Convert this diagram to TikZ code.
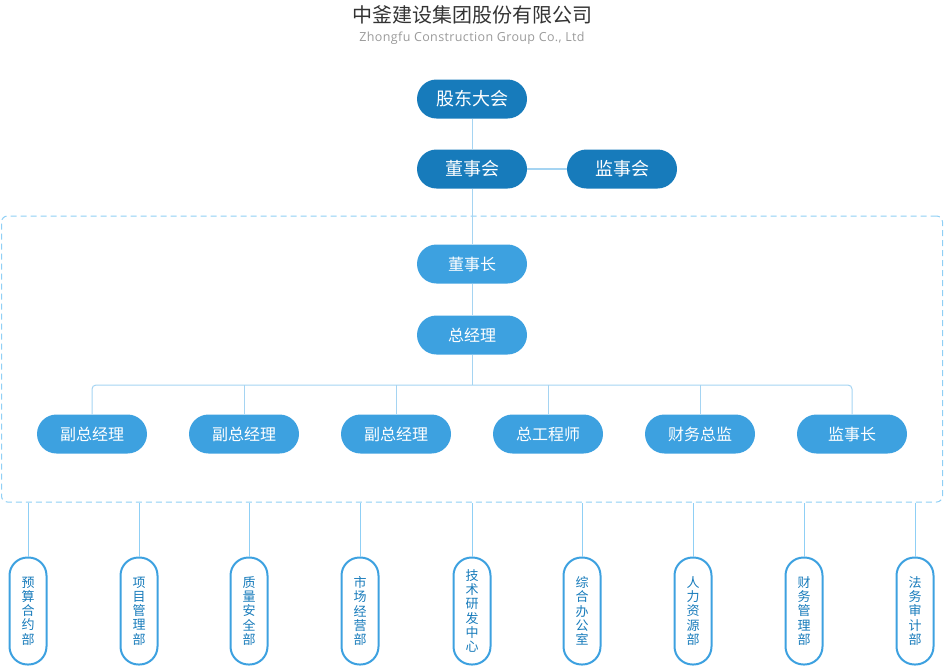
\documentclass[tikz,border=0pt]{standalone}
\usepackage{fontspec}
\setmainfont{Open Sans}
\newfontfamily\cjk{Noto Sans CJK SC}
\definecolor{deepblue}{HTML}{177BBB}
\definecolor{midblue}{HTML}{3DA1E0}
\definecolor{linkblue}{HTML}{A5D4F2}
\definecolor{dashblue}{HTML}{8FCFF5}
\definecolor{titlegray}{HTML}{333333}
\definecolor{subgray}{HTML}{9A9A9A}

\begin{document}
\begin{tikzpicture}[x=1pt,y=-1pt,
    topbox/.style={fill=deepblue,text=white,rounded corners=19.5,minimum width=110,minimum height=39,inner sep=0,font=\cjk\fontsize{18}{20}\selectfont},
    midbox/.style={fill=midblue,text=white,rounded corners=19.5,minimum width=110,minimum height=39,inner sep=0,font=\cjk\fontsize{16}{18}\selectfont},
    deptbox/.style={draw=midblue,line width=2,fill=white,text=deepblue,rounded corners=18,minimum width=37,minimum height=107,inner sep=0,align=center,font=\cjk\fontsize{13}{14.2}\selectfont},
    link/.style={draw=linkblue,line width=1}
    ]
    \useasboundingbox (0,0) rectangle (944,667);
    \node[font=\cjk\fontsize{20}{22}\selectfont,text=titlegray] (title) at (472,15) {中釜建设集团股份有限公司};
    \node[font=\fontsize{12.5}{14}\selectfont\addfontfeatures{LetterSpace=3},text=subgray] (subtitle) at (472,38) {Zhongfu Construction Group Co., Ltd};

    \node[draw=dashblue,dashed,dash pattern=on 6pt off 4pt,line width=1,rounded corners=6,minimum width=941,minimum height=286,inner sep=0] (frame) at (472,359) {};

    \node[topbox] (gddh) at (472,99) {股东大会};
    \node[topbox] (dsh) at (472,169) {董事会};
    \node[topbox] (jsh) at (622,169) {监事会};
    \node[midbox] (dsz) at (472,264) {董事长};
    \node[midbox] (zjl) at (472,335) {总经理};
    \coordinate (bus) at (472,385);

    \foreach \name/\txt [count=\i] in {f1/副总经理,f2/副总经理,f3/副总经理,f4/总工程师,f5/财务总监,f6/监事长}
        \node[midbox] (\name) at ({92+152*(\i-1)},434) {\txt};

    \foreach \name/\txt/\xpos in {
            b1/{预\\算\\合\\约\\部}/28,
            b2/{项\\目\\管\\理\\部}/139,
            b3/{质\\量\\安\\全\\部}/249,
            b4/{市\\场\\经\\营\\部}/360,
            b5/{技\\术\\研\\发\\中\\心}/472,
            b6/{综\\合\\办\\公\\室}/582,
            b7/{人\\力\\资\\源\\部}/693,
            b8/{财\\务\\管\\理\\部}/804,
            b9/{法\\务\\审\\计\\部}/915}
        \node[deptbox] (\name) at (\xpos,611) {\txt};

    \draw[link] (gddh) -- (dsh);
    \draw[link,line width=2] (dsh) -- (jsh);
    \draw[link] (dsh) -- (dsz);
    \draw[link] (dsz) -- (zjl);
    \draw[link] (zjl) -- (bus);
    \draw[link,rounded corners=4] (f1.north) |- (f6.north |- bus) -- (f6.north);
    \foreach \name in {f2,f3,f4,f5}
        \draw[link] (\name.north) -- (\name.north |- bus);
    \foreach \name in {b1,b2,b3,b4,b5,b6,b7,b8,b9}
        \draw[link,draw=dashblue] (\name.north) -- (\name.north |- frame.south);
\end{tikzpicture}
\end{document}
